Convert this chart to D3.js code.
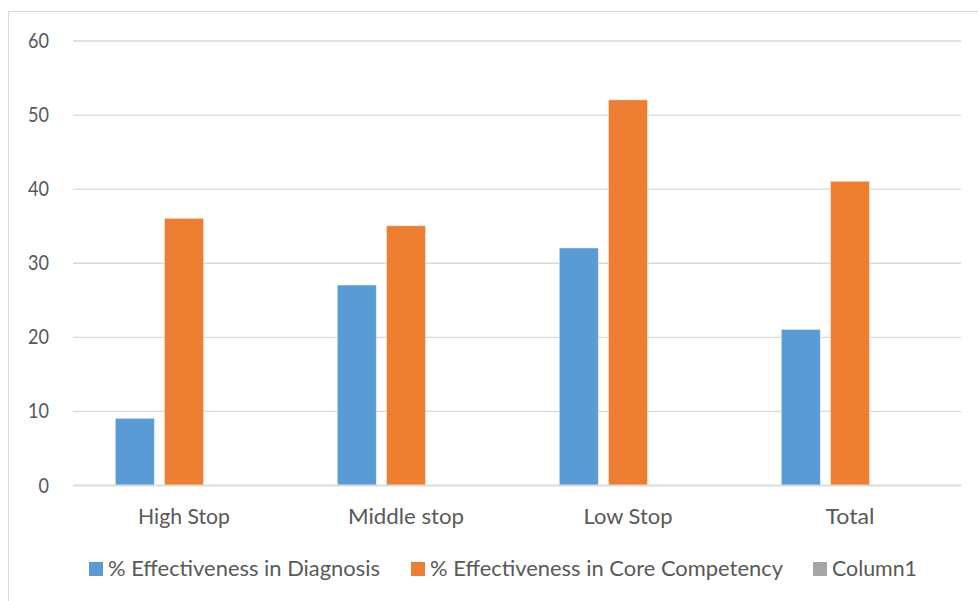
<!DOCTYPE html>
<html>
<head>
<meta charset="utf-8">
<script src="https://cdn.jsdelivr.net/npm/d3@7"></script>
<style>
  html, body { margin: 0; padding: 0; background: #fff; }
  text { font-family: Lato, "Open Sans", sans-serif; fill: #595959; }
</style>
</head>
<body>
<svg id="chart" width="978" height="601"></svg>
<script>
const categories = ["High Stop", "Middle stop", "Low Stop", "Total"];
const seriesNames = ["% Effectiveness in Diagnosis", "% Effectiveness in Core Competency", "Column1"];
const diagnosis = [9, 27, 32, 21];
const coreCompetency = [36, 35, 52, 41];
const column1 = [0, 0, 0, 0];
const yTicks = [0, 10, 20, 30, 40, 50, 60];
const colors = ["#5b9bd5", "#ed7d31", "#a5a5a5"];

const seriesValues = [diagnosis, coreCompetency, column1];
const svg = d3.select("#chart");
const FONT = "Lato, 'Open Sans', sans-serif";

// outer chart frame
svg.append("rect")
  .attr("x", 8.5).attr("y", 11.5)
  .attr("width", 1000).attr("height", 700)
  .attr("fill", "none").attr("stroke", "#d9d9d9").attr("stroke-width", 1);

const plot = { left: 73, right: 961, top: 40.5, bottom: 485 };

const x = d3.scaleBand().domain(categories).range([plot.left, plot.right]).paddingInner(0).paddingOuter(0);
const xInner = d3.scaleBand().domain(d3.range(seriesNames.length))
  .range([0, x.bandwidth()]).paddingInner(0.204).paddingOuter(0.86);
const y = d3.scaleLinear().domain([0, 60]).range([plot.bottom, plot.top]);

// gridlines and value labels
const yAxis = d3.axisLeft(y).tickValues(yTicks).tickSize(-(plot.right - plot.left)).tickPadding(24);
const gy = svg.append("g").attr("transform", `translate(${plot.left},0)`).call(yAxis);
gy.select(".domain").remove();
gy.selectAll(".tick line").attr("stroke", "#d9d9d9").attr("stroke-width", 1.3);
gy.selectAll(".tick text").attr("font-size", 22).attr("fill", "#595959")
  .style("font-family", FONT)
  .attr("textLength", d => String(d).length * 10.5)
  .attr("lengthAdjust", "spacingAndGlyphs");

// bars
const groups = svg.append("g").selectAll("g")
  .data(seriesNames.map((name, i) => ({ name, i, values: seriesValues[i] })))
  .join("g").attr("fill", d => colors[d.i]);

groups.selectAll("rect")
  .data(d => d.values.map((v, j) => ({ v, cat: categories[j], s: d.i })))
  .join("rect")
  .attr("x", d => x(d.cat) + xInner(d.s))
  .attr("width", xInner.bandwidth())
  .attr("y", d => y(d.v))
  .attr("height", d => y(0) - y(d.v))
  .attr("stroke", "#ffffff").attr("stroke-opacity", 0.5).attr("stroke-width", 1);

// category axis
const catWidths = [92, 116, 89, 49];
const xAxis = d3.axisBottom(x).tickSize(0).tickPadding(23);
const gx = svg.append("g").attr("transform", `translate(0,${plot.bottom})`).call(xAxis);
gx.select(".domain").attr("stroke", "#d9d9d9").attr("stroke-width", 1.3);
gx.selectAll(".tick text").attr("font-size", 22).attr("fill", "#595959")
  .style("font-family", FONT)
  .attr("textLength", (d, i) => catWidths[i])
  .attr("lengthAdjust", "spacingAndGlyphs");

// legend
const legendX = [89, 411, 813];
const legendW = [272, 353, 85];
const legend = svg.append("g").selectAll("g").data(seriesNames).join("g")
  .attr("transform", (d, i) => `translate(${legendX[i]},562)`);
legend.append("rect").attr("width", 14).attr("height", 14).attr("fill", (d, i) => colors[i]);
legend.append("text").attr("x", 19).attr("y", 13.5).attr("font-size", 21)
  .attr("textLength", (d, i) => legendW[i]).attr("lengthAdjust", "spacingAndGlyphs")
  .text(d => d);
</script>
</body>
</html>
